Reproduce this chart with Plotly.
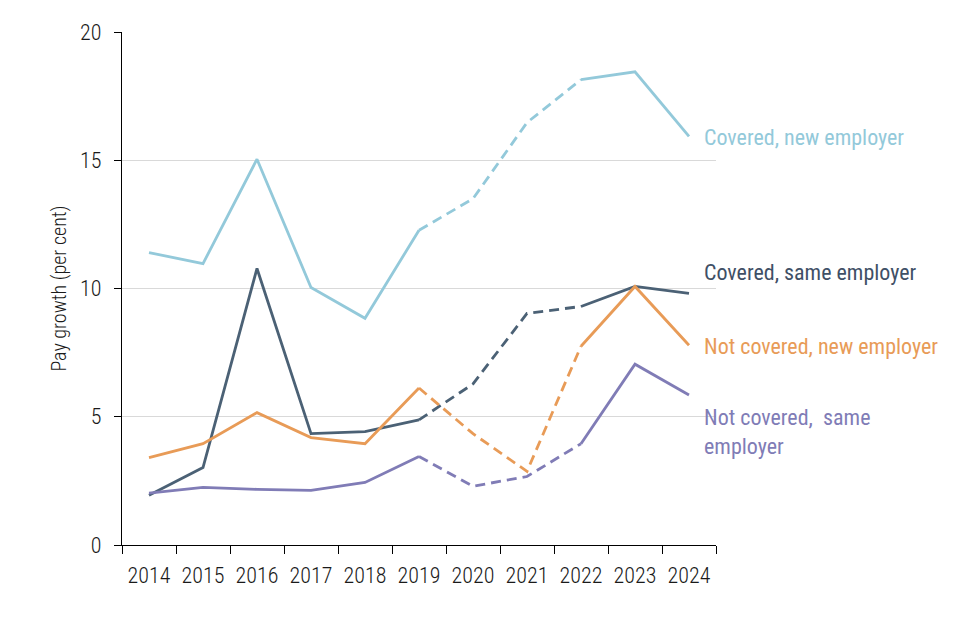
import plotly.graph_objects as go

years = ["2014", "2015", "2016", "2017", "2018", "2019", "2020", "2021", "2022", "2023", "2024"]

covered_new = [11.4, 10.97, 15.04, 10.04, 8.84, 12.27, 13.5, 16.47, 18.14, 18.45, 15.93]
covered_same = [1.94, 3.02, 10.78, 4.34, 4.42, 4.88, 6.28, 9.03, 9.30, 10.08, 9.81]
notcov_new = [3.41, 3.95, 5.16, 4.19, 3.95, 6.12, 4.34, 2.87, 7.75, 10.08, 7.79]
notcov_same = [2.02, 2.25, 2.17, 2.13, 2.44, 3.45, 2.29, 2.67, 3.95, 7.05, 5.85]

series_names = ["Covered, new employer", "Covered, same employer",
                "Not covered, new employer", "Not covered,  same<br>employer"]
series_vals = [covered_new, covered_same, notcov_new, notcov_same]
line_colors = ["#93C9DA", "#4B6175", "#E89B57", "#807CB6"]
label_colors = ["#93C9DA", "#3F5066", "#E89B57", "#807CB6"]
label_y = [15.9, 10.62, 7.75, 4.42]

early_years = {"2014", "2015", "2016", "2017", "2018", "2019"}
dashed_years = {"2019", "2020", "2021", "2022"}
late_years = {"2022", "2023", "2024"}

FONT = "Roboto Condensed, Roboto, sans-serif"
TXT = "#1a1a1a"

fig = go.Figure()
for name, vals, col in zip(series_names, series_vals, line_colors):
    for yrs, dash in ((early_years, "solid"), (late_years, "solid"), (dashed_years, "10px,6px")):
        fig.add_trace(go.Scatter(x=years, y=[v if y in yrs else None for y, v in zip(years, vals)],
                                 mode="lines", line=dict(color=col, width=2.8, dash=dash),
                                 connectgaps=False, showlegend=False, hoverinfo="skip"))

for name, ly, lc in zip(series_names, label_y, label_colors):
    fig.add_annotation(x=0.976, xref="paper", y=ly, yref="y", text=name, showarrow=False,
                       xanchor="left", yanchor="middle", align="left",
                       font=dict(family=FONT, size=22, color=lc, weight=400))

fig.update_layout(
    width=960, height=640,
    margin=dict(l=114, r=252, t=18, b=103),
    paper_bgcolor="white", plot_bgcolor="white",
    font=dict(family=FONT, size=22, color=TXT, weight=300),
)
fig.update_xaxes(type="category", range=[-0.5, 10.5], tickson="boundaries",
                 showline=True, linecolor="black", linewidth=1.2,
                 ticks="outside", ticklen=8, tickcolor="black", tickwidth=1.2,
                 ticklabelstandoff=10,
                 showgrid=False, tickfont=dict(size=22, family=FONT, color=TXT, weight=300))
fig.update_yaxes(range=[0, 20], tickvals=[0, 5, 10, 15, 20],
                 showline=True, linecolor="black", linewidth=1.2,
                 ticks="outside", ticklen=7, tickcolor="black", tickwidth=1.2,
                 showgrid=True, gridcolor="#D9D9D9", gridwidth=1, zeroline=False,
                 ticklabelstandoff=8,
                 tickfont=dict(size=22, family=FONT, color=TXT, weight=300),
                 title=dict(text="Pay growth (per cent)", font=dict(size=20, family=FONT, color=TXT, weight=300),
                            standoff=8))

fig.write_html("out.html")
